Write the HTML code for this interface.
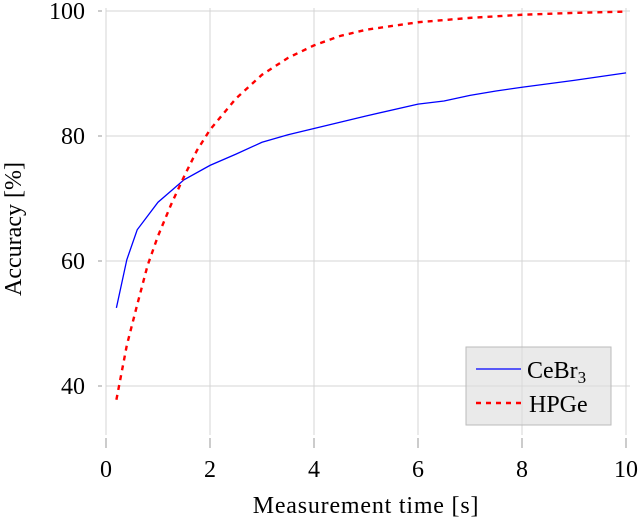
<!DOCTYPE html>
<html><head><meta charset="utf-8"><style>
body{margin:0;background:#fff;}
svg{display:block;font-family:"Liberation Serif",serif;}
</style></head><body>
<svg id="chart" width="640" height="518">
<g id="grid"></g>
<g id="ticks"></g>
<g id="series"></g>
<text x="366" y="513" font-size="24" letter-spacing="0.8" text-anchor="middle">Measurement time [s]</text>
<text transform="translate(21,229) rotate(-90)" font-size="24" text-anchor="middle">Accuracy [%]</text>
<g>
<rect x="466" y="347" width="145" height="78" fill="#dcdcdc" fill-opacity="0.6" stroke="#bbb"/>
<g>
<line x1="476" y1="369" x2="521" y2="369" stroke="#0000ff" stroke-width="1.3"/>
<text x="527" y="378" font-size="24">CeBr<tspan font-size="17" dy="5">3</tspan></text>
</g>
<g>
<line x1="476" y1="403" x2="521" y2="403" stroke="#ff0000" stroke-width="2.4" stroke-dasharray="5,5"/>
<text x="529" y="412" font-size="24">HPGe</text>
</g>
</g>
</svg>
<script>
const xTicks=[0,2,4,6,8,10];
const yTicks=[40,60,80,100];
const cebrX=[0.2,0.4,0.6,1,1.5,2,2.5,3,3.5,4,5,6,6.5,7,7.5,8,9,10];
const cebrY=[52.5,60.2,65,69.4,73,75.3,77.1,79,80.2,81.2,83.2,85.1,85.6,86.5,87.2,87.8,88.9,90.1];
const hpgeX=[0.2,0.4,0.6,0.8,1,1.25,1.5,1.75,2,2.5,3,3.5,4,4.5,5,6,7,8,9,10];
const hpgeY=[37.8,46.5,53,59.3,64,69,73.5,77.7,81,86,89.8,92.5,94.5,96,97,98.2,98.9,99.4,99.7,99.9];
const NS='http://www.w3.org/2000/svg';
const sx=v=>106+v*52;
const sy=v=>11+(100-v)*6.25;
function mk(tag,attrs,parent){const e=document.createElementNS(NS,tag);for(const k in attrs)e.setAttribute(k,attrs[k]);parent.appendChild(e);return e;}
const grid=document.getElementById('grid'),ticks=document.getElementById('ticks'),series=document.getElementById('series');
xTicks.forEach(t=>{
  const g=mk('line',{x1:sx(t),x2:sx(t),y1:8,y2:435,stroke:'#d4d4d4','stroke-width':1},grid);
  
  
  const tk=mk('line',{x1:sx(t),x2:sx(t),y1:438,y2:448,stroke:'#999','stroke-width':1},ticks);
  
  
  const l=mk('text',{x:sx(t),y:477,'font-size':24,'text-anchor':'middle'},ticks);
  l.textContent=t;
  
  
});
yTicks.forEach(t=>{
  const g=mk('line',{x1:106,x2:630,y1:sy(t),y2:sy(t),stroke:'#d4d4d4','stroke-width':1},grid);
  
  
  const tk=mk('line',{x1:98,x2:102,y1:sy(t),y2:sy(t),stroke:'#999','stroke-width':1},ticks);
  
  
  const l=mk('text',{x:85,y:sy(t)+8,'font-size':24,'text-anchor':'end'},ticks);
  l.textContent=t;
  
  
});
const p1=mk('polyline',{points:cebrX.map((x,i)=>sx(x)+','+sy(cebrY[i])).join(' '),fill:'none',stroke:'#0000ff','stroke-width':1.3},series);


const p2=mk('polyline',{points:hpgeX.map((x,i)=>sx(x)+','+sy(hpgeY[i])).join(' '),fill:'none',stroke:'#ff0000','stroke-width':2.4,'stroke-dasharray':'5,5'},series);


</script>
</body></html>
